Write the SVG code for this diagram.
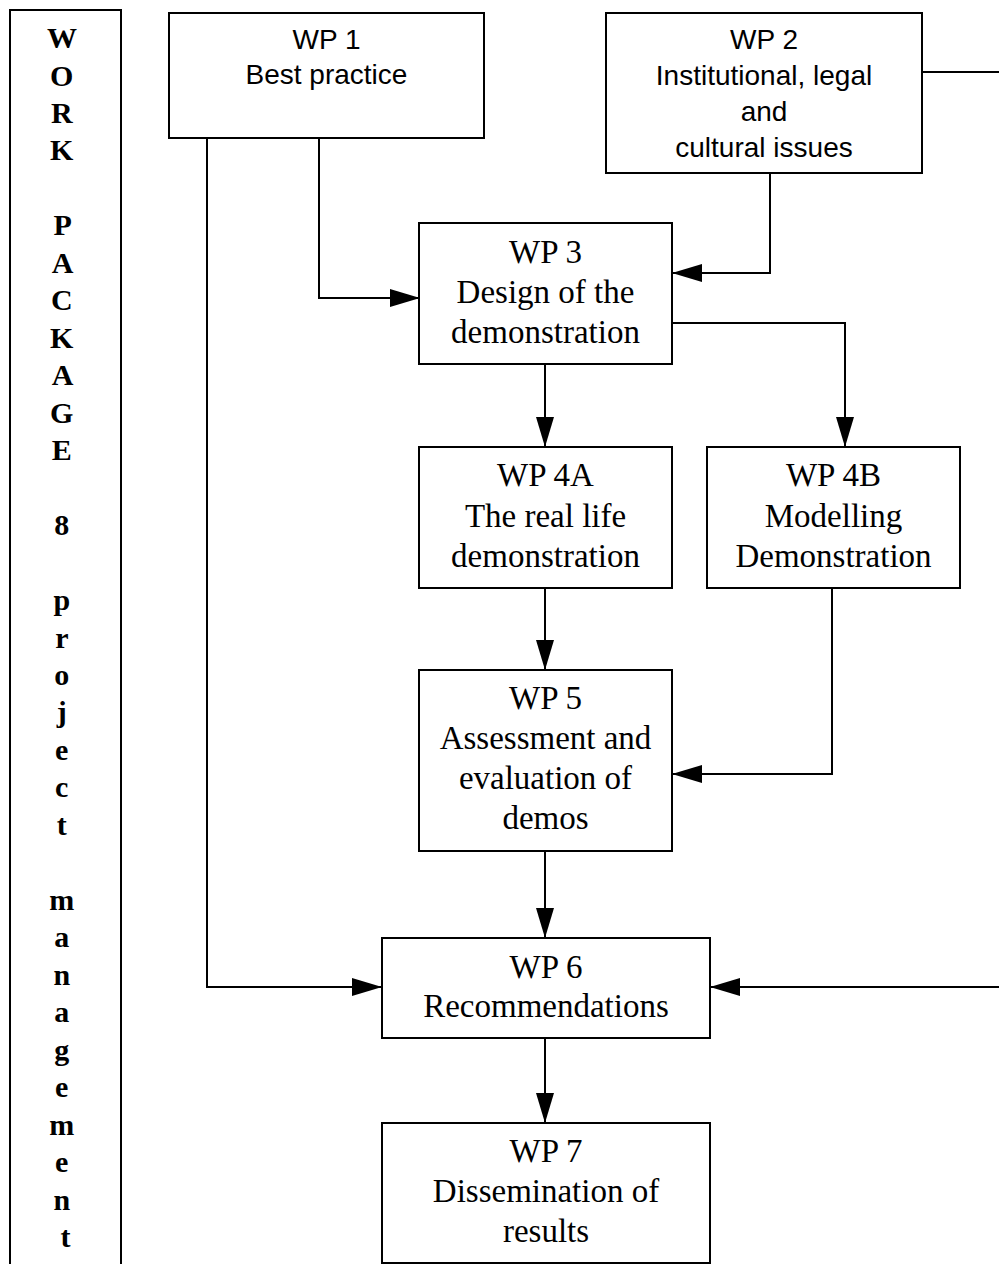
<svg xmlns="http://www.w3.org/2000/svg" width="999" height="1264" viewBox="0 0 999 1264">
<style>
.box{fill:#fff;stroke:#000;stroke-width:2}
.sans{font-family:"Liberation Sans",Arial,sans-serif;font-size:28px;text-anchor:middle;fill:#000}
.serif{font-family:"Liberation Serif","Times New Roman",serif;font-size:33px;text-anchor:middle;fill:#000}
.side{font-family:"Liberation Serif","Times New Roman",serif;font-size:30px;font-weight:bold;text-anchor:middle;fill:#000}
.conn{fill:none;stroke:#000;stroke-width:2}
</style>
<defs>
<marker id="arr" markerUnits="userSpaceOnUse" markerWidth="30" markerHeight="18" refX="30" refY="9" orient="auto">
<path d="M0,0 L30,9 L0,18 z" fill="#000"/>
</marker>
</defs>
<rect width="999" height="1264" fill="#fff"/>
<g id="wp8">
<rect class="box" x="10" y="10" width="111" height="1270"/>
<text class="side">
<tspan x="65.5" y="48">W</tspan>
<tspan x="65.5" y="85.5">O</tspan>
<tspan x="65.5" y="123">R</tspan>
<tspan x="65.5" y="160.4">K</tspan>
<tspan x="65.5" y="235.4">P</tspan>
<tspan x="65.5" y="272.8">A</tspan>
<tspan x="65.5" y="310.3">C</tspan>
<tspan x="65.5" y="347.8">K</tspan>
<tspan x="65.5" y="385.2">A</tspan>
<tspan x="65.5" y="422.7">G</tspan>
<tspan x="65.5" y="460.2">E</tspan>
<tspan x="65.5" y="535.1">8</tspan>
<tspan x="65.5" y="610">p</tspan>
<tspan x="65.5" y="647.5">r</tspan>
<tspan x="65.5" y="684.5">o</tspan>
<tspan x="65.5" y="722">j</tspan>
<tspan x="65.5" y="759.9">e</tspan>
<tspan x="65.5" y="797.4">c</tspan>
<tspan x="65.5" y="834.9">t</tspan>
<tspan x="65.5" y="909.8">m</tspan>
<tspan x="65.5" y="947.3">a</tspan>
<tspan x="65.5" y="984.7">n</tspan>
<tspan x="65.5" y="1022.2">a</tspan>
<tspan x="65.5" y="1059.6">g</tspan>
<tspan x="65.5" y="1097.1">e</tspan>
<tspan x="65.5" y="1134.6">m</tspan>
<tspan x="65.5" y="1172">e</tspan>
<tspan x="65.5" y="1209.5">n</tspan>
<tspan x="65.5" y="1247">t</tspan>
</text>
</g>
<g id="connectors">
<polyline class="conn" points="319,138 319,298 420,298" marker-end="url(#arr)"/>
<polyline class="conn" points="207,138 207,987 382,987" marker-end="url(#arr)"/>
<polyline class="conn" points="770,173 770,273 672,273" marker-end="url(#arr)"/>
<line class="conn" x1="922" y1="72" x2="999" y2="72"/>
<line class="conn" x1="999" y1="987" x2="710" y2="987" marker-end="url(#arr)"/>
<line class="conn" x1="545" y1="364" x2="545" y2="447" marker-end="url(#arr)"/>
<polyline class="conn" points="669,323 845,323 845,447" marker-end="url(#arr)"/>
<line class="conn" x1="545" y1="588" x2="545" y2="670" marker-end="url(#arr)"/>
<polyline class="conn" points="832,588 832,774 672,774" marker-end="url(#arr)"/>
<line class="conn" x1="545" y1="851" x2="545" y2="938" marker-end="url(#arr)"/>
<line class="conn" x1="545" y1="1038" x2="545" y2="1123" marker-end="url(#arr)"/>
</g>
<g id="wp1">
<rect class="box" x="169" y="13" width="315" height="125"/>
<text class="sans"><tspan x="326.5" y="49">WP 1</tspan><tspan x="326.5" y="84">Best practice</tspan></text>
</g>
<g id="wp2">
<rect class="box" x="606" y="13" width="316" height="160"/>
<text class="sans"><tspan x="764" y="49">WP 2</tspan><tspan x="764" y="85">Institutional, legal</tspan><tspan x="764" y="121">and</tspan><tspan x="764" y="157">cultural issues</tspan></text>
</g>
<g id="wp3">
<rect class="box" x="419" y="223" width="253" height="141"/>
<text class="serif"><tspan x="545.5" y="263">WP 3</tspan><tspan x="545.5" y="303">Design of the</tspan><tspan x="545.5" y="343">demonstration</tspan></text>
</g>
<g id="wp4a">
<rect class="box" x="419" y="447" width="253" height="141"/>
<text class="serif"><tspan x="545.5" y="486">WP 4A</tspan><tspan x="545.5" y="527">The real life</tspan><tspan x="545.5" y="567">demonstration</tspan></text>
</g>
<g id="wp4b">
<rect class="box" x="707" y="447" width="253" height="141"/>
<text class="serif"><tspan x="833.5" y="486">WP 4B</tspan><tspan x="833.5" y="527">Modelling</tspan><tspan x="833.5" y="567">Demonstration</tspan></text>
</g>
<g id="wp5">
<rect class="box" x="419" y="670" width="253" height="181"/>
<text class="serif"><tspan x="545.5" y="709">WP 5</tspan><tspan x="545.5" y="749">Assessment and</tspan><tspan x="545.5" y="789">evaluation of</tspan><tspan x="545.5" y="829">demos</tspan></text>
</g>
<g id="wp6">
<rect class="box" x="382" y="938" width="328" height="100"/>
<text class="serif"><tspan x="546" y="978">WP 6</tspan><tspan x="546" y="1017">Recommendations</tspan></text>
</g>
<g id="wp7">
<rect class="box" x="382" y="1123" width="328" height="140"/>
<text class="serif"><tspan x="546" y="1162">WP 7</tspan><tspan x="546" y="1202">Dissemination of</tspan><tspan x="546" y="1242">results</tspan></text>
</g>
</svg>
